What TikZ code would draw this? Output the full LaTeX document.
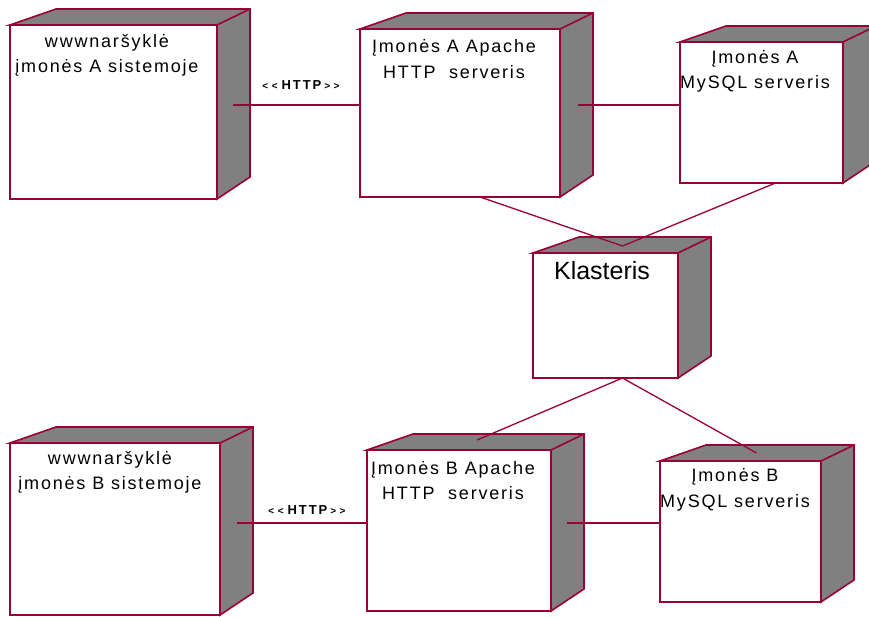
\documentclass[tikz,border=0pt]{standalone}
\usepackage{fontspec}
\setmainfont{Liberation Sans}
\newfontfamily\stereofont{Liberation Sans}[Ligatures=TeXOff,LetterSpace=15]
\newcommand\stereotype[1]{{\fontsize{10}{11}\selectfont<\hspace{3.5pt}<\hspace{4pt}}#1{\fontsize{10}{11}\selectfont\hspace{3pt}>\hspace{3.5pt}>}}
\definecolor{frame}{RGB}{153,0,51}
\definecolor{shade}{RGB}{128,128,128}
\tikzset{
  device/.style={draw=frame, line width=1.6pt, fill=white, inner sep=0pt, outer sep=0pt},
  side/.style={draw=frame, line width=1.6pt, fill=shade},
  devtext/.style={align=center, inner sep=0pt, font=\fontsize{18}{25.5}\selectfont\addfontfeature{LetterSpace=10}},
  link/.style={draw=frame, line width=1.3pt},
  stereo/.style={font=\stereofont\bfseries\fontsize{13}{14}\selectfont, inner sep=0pt}
}
\begin{document}
\begin{tikzpicture}[x=1pt, y=-1pt]
\useasboundingbox (0,0) rectangle (869,617);
% front faces
\node[device, minimum width=207, minimum height=174] (browserA) at (113.5,112) {};
\node[device, minimum width=200, minimum height=168] (apacheA) at (460,113) {};
\node[device, minimum width=163, minimum height=141] (mysqlA) at (761.5,112.5) {};
\node[device, minimum width=145, minimum height=125] (klasteris) at (605.5,315.5) {};
\node[device, minimum width=210, minimum height=172] (browserB) at (115,529) {};
\node[device, minimum width=184, minimum height=161] (apacheB) at (459,530.5) {};
\node[device, minimum width=161, minimum height=141] (mysqlB) at (740.5,531.5) {};
% depth
\foreach \n in {browserA,apacheA,mysqlA,klasteris,browserB,apacheB,mysqlB}
  \draw[side] (\n.north west) -- ++(46,-16) -| ([shift={(33,-22)}]\n.south east) -- (\n.south east) -- (\n.north east) -- cycle
    (\n.north east) -- ++(33,-16);
% labels
\node[devtext] (browserAtxt) at (107,55.5) {wwwnaršyklė\\įmonės A sistemoje};
\node[devtext] (apacheAtxt) at (454,59) {Įmonės A Apache\\HTTP\ \ serveris};
\node[devtext] (mysqlAtxt) at (755,71.5) {Įmonės A\\MySQL serveris};
\node[devtext, font=\fontsize{25}{30}\selectfont] (klasterisTxt) at (602,271) {Klasteris};
\node[devtext] (browserBtxt) at (110,472.5) {wwwnaršyklė\\įmonės B sistemoje};
\node[devtext] (apacheBtxt) at (453,480.5) {Įmonės B Apache\\HTTP\ \ serveris};
\node[devtext] (mysqlBtxt) at (735,490) {Įmonės B\\MySQL serveris};
% connections
\draw[link] ([shift={(16,-7)}]browserA.east) -- node[stereo, above=15pt, xshift=4.5pt] (httpA) {\stereotype{HTTP}} ([shift={(0,-8)}]apacheA.west);
\draw[link] ([shift={(18,-8)}]apacheA.east) -- ([shift={(0,-7.5)}]mysqlA.west);
\draw[link] ([xshift=20]apacheA.south) -- ([shift={(17,-7)}]klasteris.north);
\draw[link] ([xshift=14]mysqlA.south) -- ([shift={(17,-7)}]klasteris.north);
\draw[link] ([xshift=17]klasteris.south) -- ([shift={(18,-10)}]apacheB.north);
\draw[link] ([xshift=17]klasteris.south) -- ([shift={(16,-8)}]mysqlB.north);
\draw[link] ([shift={(17,-6)}]browserB.east) -- node[stereo, above=8pt, xshift=5pt] (httpB) {\stereotype{HTTP}} ([shift={(0,-7.5)}]apacheB.west);
\draw[link] ([shift={(16,-7.5)}]apacheB.east) -- ([shift={(0,-8.5)}]mysqlB.west);
\end{tikzpicture}
\end{document}
